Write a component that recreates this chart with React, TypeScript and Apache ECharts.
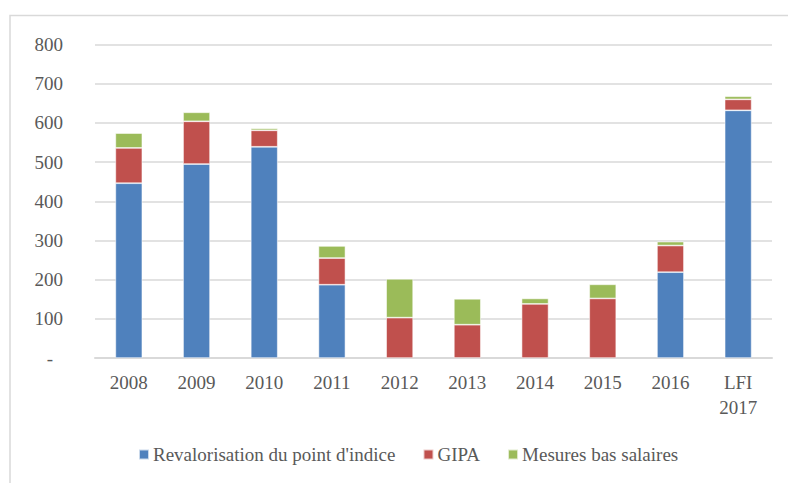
import React, { useEffect, useRef } from "react";
import * as echarts from "echarts";

const categories = ["2008", "2009", "2010", "2011", "2012", "2013", "2014", "2015", "2016", "LFI\n2017"];
const revalorisation = [446, 495, 539, 187, null, null, null, null, 219, 632];
const gipa = [90, 109, 42, 68, 103, 85, 138, 152, 68, 28];
const mesuresBasSalaires = [38, 23, 5, 31, 99, 66, 14, 36, 10, 8];
const seriesNames = ["Revalorisation du point d'indice", "GIPA", "Mesures bas salaires"];
const colors = ["#4f81bd", "#c0504d", "#9bbb59"];

const FONT = "'Liberation Serif', 'DejaVu Serif', serif";
const TEXT = "#595959";

export default function App() {
  const ref = useRef<HTMLDivElement>(null);
  useEffect(() => {
    if (!ref.current) return;
    const chart = echarts.init(ref.current, null, { renderer: "svg" });
    const dataSets = [revalorisation, gipa, mesuresBasSalaires];
    chart.setOption({
      animation: false,
      backgroundColor: "#ffffff",
      color: colors,
      textStyle: { fontFamily: FONT, color: TEXT },
      graphic: [
        {
          type: "rect",
          shape: { x: 10, y: 15.5, width: 820, height: 520 },
          style: { fill: "none", stroke: "#d9d9d9", lineWidth: 1.5 },
          silent: true,
          z: -1,
        },
      ],
      grid: { left: 95, right: 16, top: 44.5, bottom: 125, containLabel: false },
      legend: {
        left: 133,
        top: 440,
        itemWidth: 10,
        itemHeight: 10,
        itemGap: 27,
        icon: "rect",
        textStyle: { fontFamily: FONT, fontSize: 19, color: TEXT, padding: [0, 0, 0, -1] },
        data: seriesNames,
      },
      xAxis: {
        type: "category",
        data: categories,
        axisLine: { lineStyle: { color: "#d9d9d9", width: 2 } },
        axisTick: { show: false },
        axisLabel: {
          fontFamily: FONT,
          fontSize: 19,
          color: TEXT,
          margin: 12,
          lineHeight: 25,
          interval: 0,
        },
      },
      yAxis: {
        type: "value",
        min: 0,
        max: 800,
        interval: 100,
        axisLine: { show: false },
        axisTick: { show: false },
        splitLine: { lineStyle: { color: "#d9d9d9", width: 1.5 } },
        axisLabel: {
          fontFamily: FONT,
          fontSize: 19,
          color: TEXT,
          margin: 32,
          formatter: (v: number) => (v === 0 ? "{d|-}" : String(v)),
          rich: { d: { fontFamily: FONT, fontSize: 19, color: TEXT, padding: [0, 10, 0, 0] } },
        },
      },
      series: seriesNames.map((name, i) => ({
        name,
        type: "bar",
        stack: "total",
        barWidth: 27,
        data: dataSets[i],
        itemStyle: { color: colors[i], borderColor: "rgba(255,255,255,0.7)", borderWidth: 0.75 },
      })),
    });
    return () => chart.dispose();
  }, []);
  return (
    <div
      ref={ref}
      style={{ position: "absolute", left: 0, top: 0, width: 788, height: 483 }}
    />
  );
}
